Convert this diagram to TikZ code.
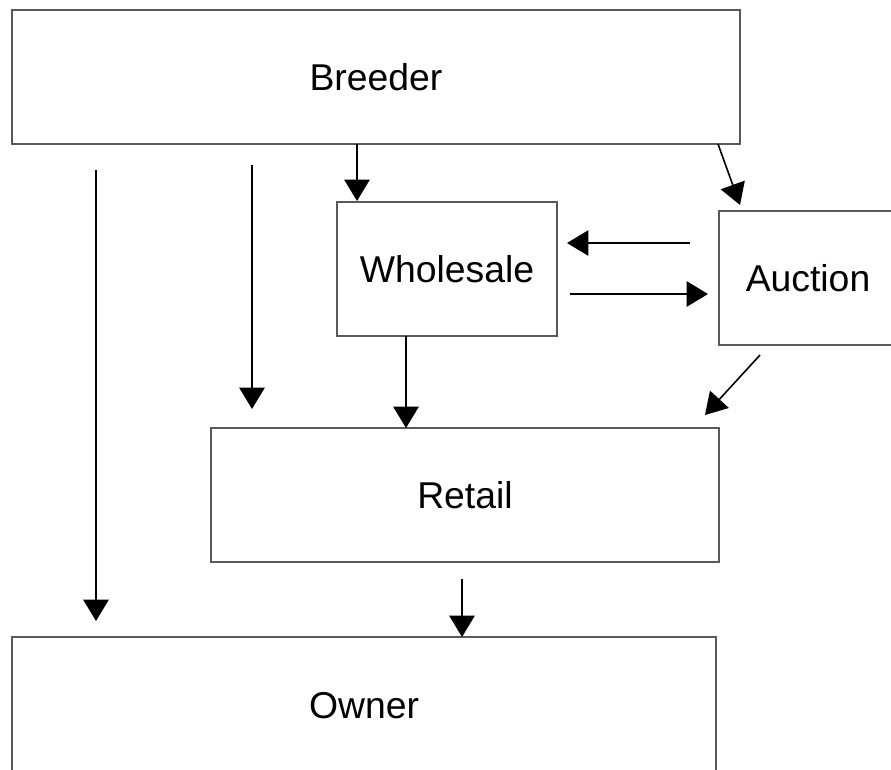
\documentclass[tikz,border=0pt]{standalone}
\usepackage{fontspec}
\setmainfont{Liberation Sans}
\usetikzlibrary{arrows.meta}
\begin{document}
\begin{tikzpicture}[x=0.75pt,y=-0.75pt,
  box/.style={draw=black!65,line width=1.5pt,fill=white,inner sep=0pt,font=\fontsize{28}{30}\selectfont},
  arr/.style={draw=black,line width=1.2pt,-{Triangle[length=16pt,width=19pt]}}]
\useasboundingbox (0,0) rectangle (891,769);
\begin{scope}
\clip (0,0) rectangle (891,769);
\node[box,minimum width=728*0.75pt,minimum height=134*0.75pt] (breeder) at (376,77) {Breeder};
\node[box,minimum width=220*0.75pt,minimum height=134*0.75pt] (wholesale) at (447,269) {Wholesale};
\node[box,minimum width=178*0.75pt,minimum height=134*0.75pt] (auction) at (808,278) {Auction};
\node[box,minimum width=508*0.75pt,minimum height=134*0.75pt] (retail) at (465,495) {Retail};
\node[box,minimum width=704*0.75pt,minimum height=138*0.75pt] (owner) at (364,706) {Owner};
\end{scope}
\coordinate (a1s) at (96,170);  \coordinate (a1e) at (96,621);
\coordinate (a2s) at (252,165); \coordinate (a2e) at (252,409);
\coordinate (a3s) at (357,144); \coordinate (a3e) at (357,201);
\coordinate (a4s) at (718,144); \coordinate (a4e) at (740,205);
\coordinate (a5s) at (690,243); \coordinate (a5e) at (567,243);
\coordinate (a6s) at (570,294); \coordinate (a6e) at (708,294);
\coordinate (a7s) at (406,336); \coordinate (a7e) at (406,428);
\coordinate (a8s) at (760,355); \coordinate (a8e) at (705,415);
\coordinate (a9s) at (462,579); \coordinate (a9e) at (462,637);
\draw[arr] (a1s) -- (a1e);
\draw[arr] (a2s) -- (a2e);
\draw[arr] (a3s) -- (a3e);
\draw[arr] (a4s) -- (a4e);
\draw[arr] (a5s) -- (a5e);
\draw[arr] (a6s) -- (a6e);
\draw[arr] (a7s) -- (a7e);
\draw[arr] (a8s) -- (a8e);
\draw[arr] (a9s) -- (a9e);
\end{tikzpicture}
\end{document}
